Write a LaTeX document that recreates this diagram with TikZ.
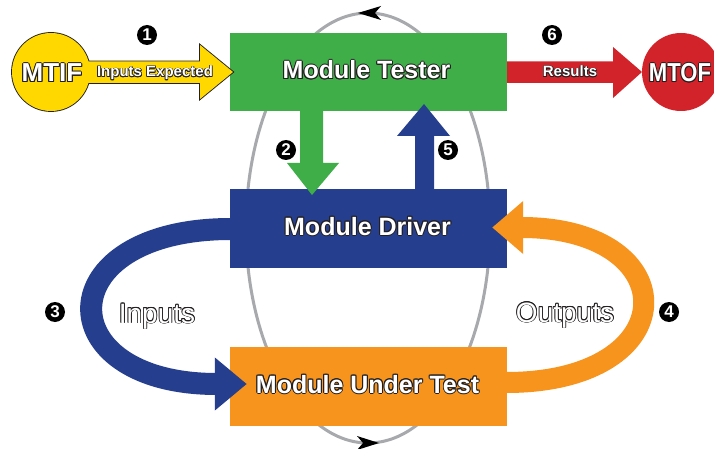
\documentclass[tikz,border=0pt]{standalone}
\usepackage{fontspec}
\setmainfont{Liberation Sans}
\usepackage{contour}
\contournumber{10}
\usetikzlibrary{arrows.meta,calc}
\definecolor{cgreen}{HTML}{3FAE49}
\definecolor{cblue}{HTML}{253F8E}
\definecolor{corange}{HTML}{F7941D}
\definecolor{cred}{HTML}{D2232A}
\definecolor{cyellow}{HTML}{FFD800}
\definecolor{cgray}{HTML}{A7A9AC}
\definecolor{cline}{HTML}{231F20}
\newcommand{\otext}[2][1pt]{{\contourlength{#1}\contour{cline}{\textcolor{white}{#2}}}}
\begin{document}
\begin{tikzpicture}[x=1pt,y=-1pt,
  box/.style={minimum width=277pt, minimum height=78pt, inner sep=0pt, draw=none},
  boxtext/.style={anchor=base, font=\bfseries\fontsize{25}{25}\selectfont, inner sep=0pt},
  flowtext/.style={anchor=base, font=\fontsize{28}{28}\selectfont, inner sep=0pt},
  smalltext/.style={anchor=base, font=\bfseries\fontsize{15}{15}\selectfont, inner sep=0pt},
  endtext/.style={anchor=base, font=\bfseries\fontsize{26}{26}\selectfont, inner sep=0pt},
  num/.style={circle, fill=black, text=white, inner sep=0pt, minimum size=20pt, font=\bfseries\fontsize{17}{17}\selectfont},
  ring/.style={draw=cgray, line width=3pt},
  endcircle/.style={circle, minimum size=78pt, inner sep=0pt},
  fatline/.style={line width=22pt},
]
\useasboundingbox (0,0) rectangle (714,449);
\clip (0,0) rectangle (714,449);
\fill[white] (0,0) rectangle (714,449);
% cycle ring
\draw[ring] (368,228) ellipse [x radius=122, y radius=215];
\fill[black] (358,13) -- (381,6) -- (375,13) -- (381,20) -- cycle;
\fill[black] (379,443) -- (357,436) -- (363,443) -- (357,450) -- cycle;
% boxes
\node[box, fill=cgreen] (tester) at (368.5,72) {};
\node[box, fill=cblue, minimum height=79pt] (driver) at (368.5,228.5) {};
\node[box, fill=corange, minimum height=79pt] (mut) at (368.5,386.5) {};
% MTIF circle with arrow (union outline)
\node[endcircle, draw=cline, line width=1.8pt] (mtif) at (51,72) {};
\draw[cline, line width=1.8pt] (70,61.5) -- (200,61.5) -- (200,45) -- (233,72) -- (200,99) -- (200,83) -- (70,83) -- cycle;
\fill[cyellow] (mtif.center) circle[radius=39pt];
\fill[cyellow] (70,61.5) -- (200,61.5) -- (200,45) -- (233,72) -- (200,99) -- (200,83) -- (70,83) -- cycle;
% MTOF circle with arrow
\node[endcircle, fill=cred] (mtof) at (681,72) {};
\fill[cred] ($(tester.east)+(0,-10.5)$) -- (613,61.5) -- (613,47) -- (642,72) -- (613,98) -- (613,83) -- ($(tester.east)+(0,11)$) -- cycle;
% arrow 2 (tester -> driver)
\fill[cgreen] (300,110) -- (323,110) -- (323,163) -- (339,163) -- (312,195) -- (287,163) -- (300,163) -- cycle;
% arrow 5 (driver -> tester)
\fill[cblue] (415,189) -- (415,136) -- (397,136) -- (424,104) -- (450,136) -- (434,136) -- (434,189) -- cycle;
% arrow 3 (driver -> module under test)
\draw[fatline, cblue, -{Triangle[length=32pt, width=51pt]}] ($(driver.west)+(1,0.5)$) .. controls (47,229) and (47,384) .. ($(mut.west)+(17,-2.5)$);
% arrow 4 (module under test -> driver)
\draw[fatline, line width=21pt, corange, -{Triangle[length=31pt, width=51pt]}] ($(mut.east)+(-1,-4)$) .. controls (687,382.5) and (687,227.5) .. ($(driver.east)+(-15,-1)$);
% labels
\node[boxtext] at ($(tester.center)+(-2,7)$) {\otext{Module Tester}};
\node[boxtext] at ($(driver.center)+(-1,6.5)$) {\otext{Module Driver}};
\node[boxtext] at ($(mut.center)+(-1,6.5)$) {\otext{Module Under Test}};
\node[smalltext] at (155,77) {\otext[0.7pt]{Inputs Expected}};
\node[smalltext] at (570,77) {\otext[0.7pt]{Results}};
\node[endtext] at (52,82) {\otext{MTIF}};
\node[endtext] at (680,82) {\scalebox{0.85}[1]{\otext{MTOF}}};
\node[flowtext] at (157,323) {\otext[0.8pt]{Inputs}};
\node[flowtext] at (565,322) {\otext[0.8pt]{Outputs}};
% step numbers
\node[num] (n1) at (147,35) {1};
\node[num] (n2) at (286,150) {2};
\node[num] (n3) at (55,312) {3};
\node[num] (n4) at (669,312) {4};
\node[num] (n5) at (448,150) {5};
\node[num] (n6) at (552,35) {6};
\end{tikzpicture}
\end{document}
